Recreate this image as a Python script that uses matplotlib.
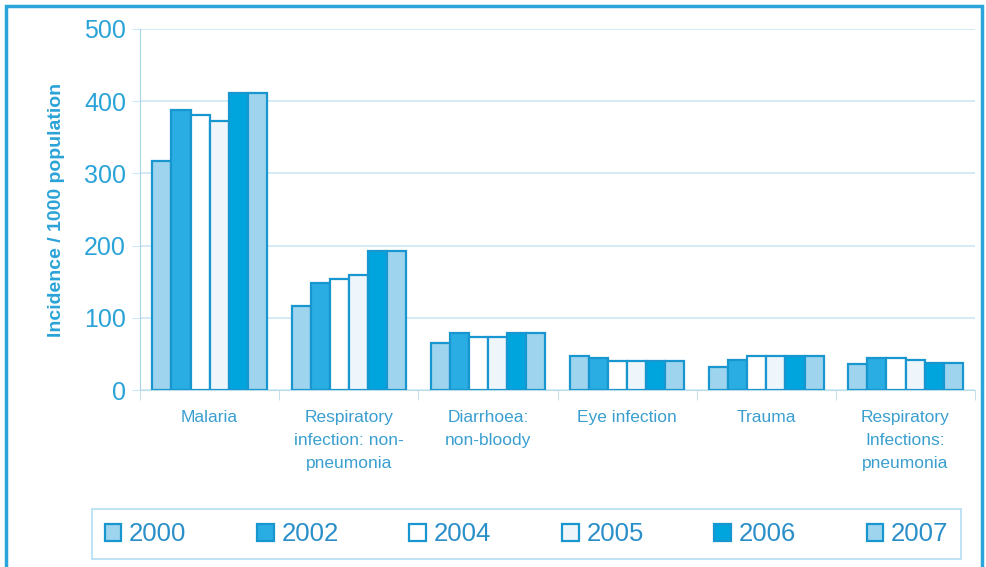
import matplotlib
matplotlib.use('Agg')
import matplotlib.pyplot as plt
import numpy as np
from matplotlib.patches import Rectangle

plt.rcParams['font.family'] = ['Liberation Sans', 'DejaVu Sans']

# data
categories = ['Malaria', 'Respiratory\ninfection: non-\npneumonia', 'Diarrhoea:\nnon-bloody',
              'Eye infection', 'Trauma', 'Respiratory\nInfections:\npneumonia']
years = ['2000', '2002', '2004', '2005', '2006', '2007']
v2000 = [317, 117, 65, 47, 32, 36]
v2002 = [388, 148, 79, 44, 41, 44]
v2004 = [381, 154, 73, 40, 47, 44]
v2005 = [373, 160, 73, 40, 47, 41]
v2006 = [411, 192, 79, 40, 47, 38]
v2007 = [411, 192, 79, 40, 47, 38]
series = [v2000, v2002, v2004, v2005, v2006, v2007]

fills = ['#9fd4ef', '#29ade3', '#ffffff', '#eef6fb', '#00a5de', '#9fd4ef']
edge = '#1896d0'
txt = '#2aa3d8'
grid_c = '#cce8f5'

fig = plt.figure(figsize=(9.86, 5.67), dpi=100)
ax = fig.add_axes([0.142, 0.312, 0.847, 0.637])

x = np.arange(len(categories))
w = 0.137
for i, vals in enumerate(series):
    ax.bar(x + (i - 2.5) * w, vals, width=w, color=fills[i], edgecolor=edge,
           linewidth=1.6, label=years[i], zorder=3)

ax.set_xlim(-0.5, len(categories) - 0.5)
ax.set_ylim(0, 500)
ax.set_yticks([0, 100, 200, 300, 400, 500])
ax.yaxis.grid(True, color=grid_c, linewidth=1.2, zorder=0)
ax.tick_params(axis='y', colors=grid_c, labelcolor=txt, labelsize=18, length=6, pad=4)
ax.set_xticks(x)
ax.set_xticklabels(categories, color='#3a9fd0', fontsize=12.5, linespacing=1.7)
ax.tick_params(axis='x', length=0, pad=14)
# boundary ticks between categories
ax.set_xticks(np.arange(-0.5, len(categories)), minor=True)
ax.tick_params(axis='x', which='minor', length=7, color='#bcdcea', direction='out')
for s in ['top', 'right']:
    ax.spines[s].set_visible(False)
ax.spines['left'].set_color('#a9d4e8')
ax.spines['bottom'].set_color('#bcdcea')
ax.set_ylabel('Incidence / 1000 population', color=txt, fontsize=14,
              fontweight='bold', labelpad=14)

leg = fig.legend(loc='center', bbox_to_anchor=(0.534, 0.058), ncol=6, fontsize=18.5,
                 frameon=True, fancybox=False, handlelength=0.65, handleheight=0.65,
                 handletextpad=0.3, columnspacing=2.75, borderpad=0.5, borderaxespad=0)
leg.get_frame().set_edgecolor('#9fd4ef')
leg.get_frame().set_linewidth(1.2)
for t in leg.get_texts():
    t.set_color('#2a8fc8')

# outer frame
fig.patches.append(Rectangle((0.006, -0.01), 0.99, 1.0, transform=fig.transFigure,
                             fill=False, edgecolor='#2aa5dc', linewidth=2.5))

fig.savefig('out.png', dpi=100)
